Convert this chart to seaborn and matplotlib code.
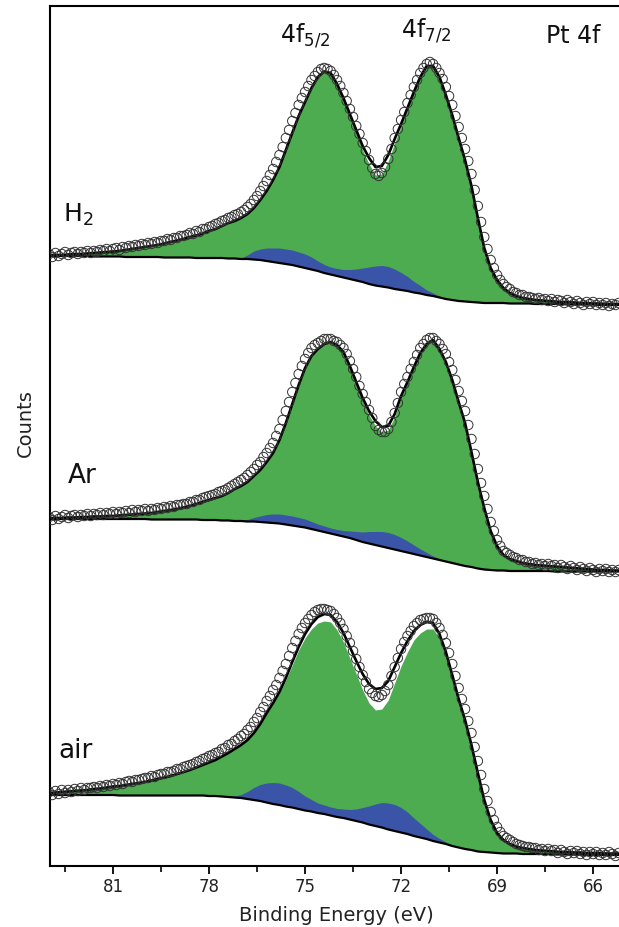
import numpy as np
import matplotlib
matplotlib.use("Agg")
import matplotlib.pyplot as plt
import seaborn as sns
from matplotlib.ticker import MultipleLocator

# Binding energy grids (eV): fitted curves every 0.2 eV, measured points every 0.1 eV
be_fit = np.round(np.linspace(83.0, 65.2, 90), 2)
be_data = np.round(np.linspace(83.0, 65.2, 179), 2)

# ---- H2 reduced sample (arbitrary units, stacked offset) ----
h2_fit = [611, 611, 611, 611.5, 612, 612, 612.5, 613, 613.5, 614,
          614.5, 615, 616, 617, 618, 619, 620, 621, 622.5, 624,
          625.5, 627, 629, 630.5, 632.5, 635, 637, 640, 643, 645,
          648, 652, 658, 666, 675, 686, 699, 716, 733, 750,
          764, 778, 789, 794.5, 793, 782, 768, 752, 736, 720,
          708, 699, 700, 711, 727, 742, 758, 774, 789, 800,
          800, 789, 771, 751, 728, 706, 680, 648, 618, 598,
          586, 578, 573, 570, 568, 567, 566, 565.5, 565, 564.5,
          564, 564, 563.5, 563, 563, 562.5, 562.5, 562, 562, 562]
h2_bg = [610, 610, 610, 610, 610, 610, 610, 609.5, 609.5, 609.5,
         609.5, 609.5, 609, 609, 609, 609, 609, 609, 608.5, 608.5,
         608.5, 608.5, 608.5, 608, 608, 608, 608, 608, 607.5, 607.5,
         607, 607, 606.5, 606, 605, 604, 603, 602, 601, 599.5,
         598, 596.5, 595, 593, 591.5, 590, 588.5, 587, 585.5, 584,
         582, 580.5, 579.5, 578.5, 577, 576, 575, 573.5, 572.5, 571,
         570, 568.5, 567, 566, 565, 564.5, 564, 563.5, 563, 563,
         563, 563, 562.5, 562.5, 562.5, 562.5, 562, 562, 562, 562,
         562, 561.5, 561.5, 561.5, 561.5, 561.5, 561, 561, 561, 561]
h2_pt2 = [0, 0, 0, 0, 0, 0, 0, 0, 0, 0,
          0, 0, 0, 0, 0, 0, 0, 0, 0, 0,
          0, 0, 0, 0, 0, 0, 0, 0, 0, 0,
          1, 4, 8.5, 11, 13, 14, 15, 15, 15, 14.5,
          14, 12.5, 10, 8.5, 7.5, 7.5, 8, 9.5, 11.5, 14,
          17, 19.5, 21, 21, 20, 17.5, 14.5, 11, 8, 5,
          3, 1.5, 0.5, 0, 0, 0, 0, 0, 0, 0,
          0, 0, 0, 0, 0, 0, 0, 0, 0, 0,
          0, 0, 0, 0, 0, 0, 0, 0, 0, 0]
# white gap between the envelope and the top of the green area
h2_gap = [0, 0, 0, 0, 0, 0, 0, 0, 0, 0,
          0, 0, 0, 0, 0, 0, 0, 0, 0, 0,
          0, 0, 0, 0, 0, 0, 0, 0, 0, 0,
          0, 0, 0, 0, 0, 0, 0, 0, 0, 0,
          0, 0, 0, 0, 0, 0, 0, 1, 2, 4,
          6, 8, 8, 6, 4, 2, 1, 0, 0, 0,
          0, 0, 0, 0, 0, 0, 0, 0, 0, 0,
          0, 0, 0, 0, 0, 0, 0, 0, 0, 0,
          0, 0, 0, 0, 0, 0, 0, 0, 0, 0]
h2_counts = [612, 609, 613, 610, 612, 614, 611, 613, 614, 612,
             614, 613, 615, 613, 615, 614, 616, 615, 617, 615,
             617, 618, 616, 619, 618, 620, 619, 621, 620, 622,
             621, 623, 622, 624, 623, 625, 625, 627, 626, 628,
             628, 630, 630, 631, 633, 632, 635, 634, 637, 637,
             639, 640, 642, 643, 645, 646, 648, 649, 651, 652,
             654, 656, 659, 662, 666, 670, 675, 680, 685, 691,
             697, 704, 711, 719, 728, 736, 745, 753, 761, 768,
             774, 780, 786, 790, 794, 797, 798, 797, 795, 791,
             786, 780, 773, 765, 757, 749, 740, 732, 723, 715,
             706, 698, 692, 690, 693, 699, 707, 717, 728, 737,
             746, 754, 763, 771, 779, 786, 793, 798, 802, 804,
             802, 798, 793, 787, 779, 770, 761, 750, 739, 728,
             717, 705, 692, 676, 660, 644, 629, 617, 606, 598,
             591, 586, 582, 579, 577, 574, 573, 571, 571, 569,
             569, 568, 567, 568, 566, 567, 565, 567, 564, 566,
             565, 563, 566, 564, 562, 565, 563, 561, 564, 562,
             564, 561, 563, 561, 563, 560, 562, 561, 563]

# ---- Ar treated sample ----
ar_fit = [348, 348, 348, 348.5, 348.5, 349, 349, 349.5, 349.5, 350,
          350, 350.5, 351, 351.5, 352, 352.5, 353, 354, 355, 356,
          357, 358.5, 360, 362, 364, 366, 368, 370, 373, 377,
          380, 384, 390, 396, 404, 413, 426, 443, 462, 481,
          498, 510, 517, 522, 524, 521, 514, 500, 484, 468,
          455, 445, 439, 440, 452, 470, 484, 499, 513, 522,
          526, 517, 504, 486, 464, 443, 414, 384, 358, 335,
          320, 311, 307, 305, 303, 302, 301, 300.5, 300, 299.5,
          299, 298.5, 298, 297.5, 297, 296.5, 296, 296, 295.5, 295.5]
ar_bg = [347, 347, 347, 347, 347, 347, 347, 347, 347, 347,
         347, 347, 347, 347, 347, 347, 346.5, 346.5, 346.5, 346.5,
         346.5, 346.5, 346.5, 346.5, 346, 346, 346, 345.5, 345.5, 345,
         345, 344.5, 344.5, 344, 343.5, 343, 342.5, 341.5, 340.5, 339.5,
         338.5, 337, 335.5, 334, 332.5, 331, 329.5, 328, 326, 324,
         322.5, 321, 319.5, 318, 316.5, 315, 313.5, 312, 310.5, 309,
         307.5, 306, 304.5, 303, 301.5, 300, 299, 297.5, 296.5, 296,
         295.5, 295.5, 295, 295, 295, 295, 295, 295, 295, 294.5,
         294.5, 294.5, 294.5, 294.5, 294.5, 294.5, 294.5, 294.5, 294.5, 294.5]
ar_pt2 = [0, 0, 0, 0, 0, 0, 0, 0, 0, 0,
          0, 0, 0, 0, 0, 0, 0, 0, 0, 0,
          0, 0, 0, 0, 0, 0, 0, 0, 0, 0,
          0.5, 2, 4, 6, 8, 9, 9.5, 9.5, 9.5, 9,
          8.5, 7.5, 6.5, 6, 5.5, 5.5, 6, 7, 8.5, 10,
          12, 13.5, 15, 15.5, 15, 13.5, 11.5, 9, 6.5, 4.5,
          2.5, 1.5, 0.5, 0, 0, 0, 0, 0, 0, 0,
          0, 0, 0, 0, 0, 0, 0, 0, 0, 0,
          0, 0, 0, 0, 0, 0, 0, 0, 0, 0]
ar_gap = [0, 0, 0, 0, 0, 0, 0, 0, 0, 0,
          0, 0, 0, 0, 0, 0, 0, 0, 0, 0,
          0, 0, 0, 0, 0, 0, 0, 0, 0, 0,
          0, 0, 0, 0, 0, 0, 0, 0, 0, 0,
          0, 0, 0, 0, 0, 0, 0, 1, 2, 3,
          4, 5, 5, 4, 3, 1.5, 0.5, 0, 0, 0,
          0, 0, 0, 0, 0, 0, 0, 0, 0, 0,
          0, 0, 0, 0, 0, 0, 0, 0, 0, 0,
          0, 0, 0, 0, 0, 0, 0, 0, 0, 0]
ar_counts = [349, 346, 350, 347, 349, 351, 348, 350, 351, 349,
             351, 350, 352, 350, 352, 351, 353, 351, 353, 352,
             354, 352, 354, 353, 355, 353, 356, 354, 356, 355,
             357, 355, 357, 356, 358, 357, 359, 358, 360, 359,
             361, 361, 362, 362, 364, 364, 366, 366, 368, 369,
             370, 371, 372, 374, 375, 376, 378, 380, 382, 384,
             386, 388, 391, 394, 397, 401, 404, 409, 413, 418,
             423, 430, 437, 446, 455, 464, 474, 483, 492, 500,
             507, 513, 518, 521, 523, 525, 527, 527, 527, 525,
             524, 521, 518, 512, 505, 497, 489, 480, 472, 464,
             456, 448, 440, 436, 434, 434, 437, 444, 453, 463,
             474, 482, 489, 497, 504, 511, 518, 522, 526, 528,
             528, 525, 522, 517, 512, 504, 496, 486, 475, 465,
             455, 441, 427, 412, 397, 383, 370, 357, 344, 335,
             326, 320, 315, 313, 311, 309, 308, 306, 306, 304,
             304, 302, 303, 301, 302, 300, 302, 300, 301, 298,
             301, 299, 297, 300, 298, 296, 299, 297, 295, 298,
             296, 294, 297, 295, 297, 294, 296, 294, 296]

# ---- air exposed sample ----
air_fit = [73, 73.5, 74, 74.5, 75, 75.5, 76, 77, 77.5, 78.5,
           79.5, 80, 81, 82, 83, 84, 85.5, 87, 88.5, 90,
           92, 94, 96, 98.5, 101, 103.5, 106, 109.5, 113, 117,
           121, 126, 133, 142, 153, 163, 174, 188, 204, 219,
           232, 242, 249, 252, 251, 244, 233, 219, 205, 192,
           182, 177, 178, 185, 199, 213, 225, 235, 241, 244,
           243, 232, 214, 191, 167, 146, 121, 93, 66, 46,
           33, 26, 22, 19.5, 18, 17, 16, 15.5, 15, 14.5,
           14, 14, 13.5, 13.5, 13, 13, 13, 12.5, 12.5, 12.5]
air_bg = [71, 71, 71, 71, 71, 71, 71, 71, 71, 71,
          71, 70.5, 70.5, 70.5, 70.5, 70.5, 70.5, 70.5, 70.5, 70.5,
          70.5, 70.5, 70.5, 70.5, 70.5, 70, 70, 69.5, 69, 68.5,
          68, 67, 66, 65, 63.5, 62, 61, 59.5, 58.5, 57,
          55.5, 54.5, 53, 52, 50.5, 49, 48, 46.5, 45, 43.5,
          41.5, 40, 38.5, 36.5, 35, 33.5, 32, 30, 28.5, 27,
          25, 23.5, 22, 20, 18.5, 17, 16, 14.5, 14, 13.5,
          13, 12.5, 12.5, 12.5, 12, 12, 12, 12, 12, 11.5,
          11.5, 11.5, 11.5, 11.5, 11, 11, 11, 11, 11, 11]
air_pt2 = [0, 0, 0, 0, 0, 0, 0, 0, 0, 0,
           0, 0, 0, 0, 0, 0, 0, 0, 0, 0,
           0, 0, 0, 0, 0, 0, 0, 0, 0.5, 1.5,
           3.5, 7.5, 12.5, 16.5, 19.5, 21.5, 22, 21.5, 20, 17.5,
           14.5, 12, 10, 9, 8.5, 8.5, 9, 10, 12, 15,
           18.5, 22, 25, 26.5, 26.5, 25, 22, 18, 14, 10,
           6.5, 4, 2, 1, 0, 0, 0, 0, 0, 0,
           0, 0, 0, 0, 0, 0, 0, 0, 0, 0,
           0, 0, 0, 0, 0, 0, 0, 0, 0, 0]
air_gap = [0, 0, 0, 0, 0, 0, 0, 0, 0, 0,
           0, 0, 0, 0, 0, 0, 0, 0, 0, 0,
           0, 0, 0, 0, 0, 0, 0, 0, 0, 0,
           0, 0, 0, 0, 0, 0, 1, 2, 3, 3,
           4, 5, 6, 7, 7, 8, 9, 11, 13, 16,
           19, 21, 21, 19, 16, 13, 11, 9, 8, 7,
           6, 4, 2, 1, 0, 0, 0, 0, 0, 0,
           0, 0, 0, 0, 0, 0, 0, 0, 0, 0,
           0, 0, 0, 0, 0, 0, 0, 0, 0, 0]
air_counts = [74, 71, 75, 72, 76, 73, 76, 74, 77, 75,
              78, 76, 78, 78, 79, 78, 80, 79, 81, 80,
              82, 81, 83, 82, 84, 85, 84, 86, 86, 87,
              88, 88, 90, 89, 91, 92, 92, 94, 94, 95,
              97, 97, 99, 100, 101, 102, 104, 105, 107, 108,
              110, 111, 113, 114, 117, 118, 121, 122, 125, 127,
              130, 132, 136, 139, 144, 148, 154, 159, 165, 170,
              176, 181, 188, 195, 202, 210, 218, 225, 232, 238,
              243, 247, 251, 254, 256, 257, 257, 256, 255, 252,
              248, 243, 237, 230, 223, 215, 207, 199, 191, 184,
              177, 173, 170, 169, 171, 175, 181, 190, 199, 208,
              217, 224, 230, 235, 240, 243, 246, 247, 248, 248,
              247, 243, 238, 231, 223, 213, 202, 190, 178, 167,
              157, 145, 133, 119, 105, 91, 77, 65, 54, 46,
              39, 34, 30, 28, 26, 24, 22, 21, 20, 19,
              19, 18, 18, 16, 17, 15, 17, 15, 16, 13,
              16, 14, 12, 15, 13, 15, 12, 14, 11, 14,
              12, 14, 11, 13, 11, 14, 12, 10, 13]

sample_labels = ["H$_2$", "Ar", "air"]
major_ticks = [81, 78, 75, 72, 69, 66]

sns.set_theme(style="ticks")
plt.rcParams["font.family"] = ["DejaVu Sans"]
plt.rcParams["mathtext.fontset"] = "dejavusans"

W, H = 619, 927
fig = plt.figure(figsize=(W / 100, H / 100), dpi=100)
ax = fig.add_axes([50 / W, 1 - 866 / H, 569 / W, 860 / H])

green = "#4dac50"
blue = "#3a55a8"

spectra = [(h2_counts, h2_fit, h2_bg, h2_pt2, h2_gap),
           (ar_counts, ar_fit, ar_bg, ar_pt2, ar_gap),
           (air_counts, air_fit, air_bg, air_pt2, air_gap)]

for counts, fit, bg, pt2, gap in spectra:
    fit = np.asarray(fit, float)
    bg = np.asarray(bg, float)
    pt2 = np.asarray(pt2, float)
    gap = np.asarray(gap, float)
    # Pt(0) area under the envelope, Pt(II) component on the background
    ax.fill_between(be_fit, bg, fit - gap, color=green, lw=0, zorder=1)
    ax.fill_between(be_fit, bg, bg + pt2, color=blue, lw=0, zorder=2)
    sns.lineplot(x=be_fit, y=bg, ax=ax, color="black", lw=1.6, zorder=3)
    sns.lineplot(x=be_fit, y=fit, ax=ax, color="black", lw=1.9, zorder=4)
    sns.scatterplot(x=be_data, y=counts, ax=ax, marker="o", s=46,
                    color="0.2", facecolor="none", edgecolor="0.2",
                    linewidth=0.7, zorder=5)

ax.set_xlim(82.97, 65.19)
ax.set_ylim(0, 860)
ax.set_xticks(major_ticks)
ax.set_xticklabels([str(t) for t in major_ticks])
ax.xaxis.set_minor_locator(MultipleLocator(1.5))
ax.set_yticks([])

ax.spines["right"].set_visible(False)
for side in ["top", "left", "bottom"]:
    ax.spines[side].set_color("black")
    ax.spines[side].set_linewidth(1.5)

ax.tick_params(axis="x", which="major", direction="out", length=6, width=1.3,
               labelsize=12, color="black", labelcolor="#222222", pad=3)
ax.tick_params(axis="x", which="minor", direction="out", length=4, width=1.2,
               color="black")
ax.tick_params(axis="y", left=False)

ax.set_xlabel("Binding Energy (eV)", fontsize=14, color="#222222")
ax.xaxis.set_label_coords(0.503, -0.0465)
ax.set_ylabel("Counts", fontsize=14, color="#222222")
ax.yaxis.set_label_coords(-0.026, 0.515)


def fx(px):
    return px / W


def fy(py):
    return 1 - py / H


fig.text(fx(63), fy(222), sample_labels[0], fontsize=18, va="baseline", color="#111111")
fig.text(fx(68), fy(483), sample_labels[1], fontsize=19, va="baseline", color="#111111")
fig.text(fx(58), fy(758), sample_labels[2], fontsize=19, va="baseline", color="#111111")
fig.text(fx(280), fy(42), "4f$_{5/2}$", fontsize=17, va="baseline", color="#111111")
fig.text(fx(401), fy(37), "4f$_{7/2}$", fontsize=17, va="baseline", color="#111111")
fig.text(fx(546), fy(43), "Pt 4f", fontsize=17, va="baseline", color="#111111")

fig.savefig("out.png", dpi=100)
